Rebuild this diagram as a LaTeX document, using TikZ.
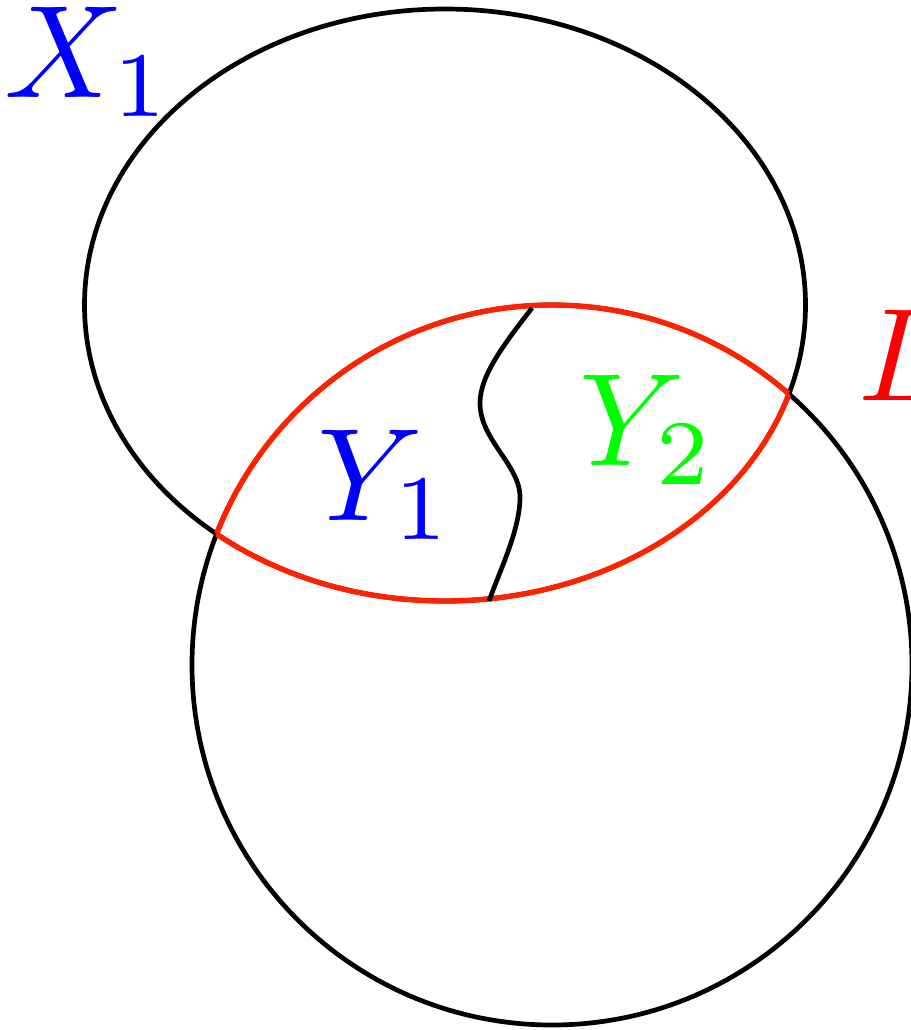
\documentclass[tikz,border=0pt]{standalone}
\usepackage{xcolor}
\definecolor{redline}{RGB}{255,34,0}
\definecolor{greenlab}{RGB}{0,255,0}
\begin{document}
\begin{tikzpicture}[x=0.5pt,y=-0.5pt,
  curve/.style={line width=2.35pt,black},
  redcurve/.style={line width=2.7pt,redline},
  lab/.style={inner sep=0pt,anchor=base west,scale=6.6}]
\useasboundingbox (0,0) rectangle (911,1030);
% outlines
\draw[curve] (445,305) ellipse [x radius=360.5,y radius=296];
\draw[curve] (552,665) circle [radius=360];
% red boundary of the intersection
\begin{scope}
  \clip (445,305) ellipse [x radius=360.5,y radius=296];
  \draw[redcurve] (552,665) circle [radius=360];
\end{scope}
\begin{scope}
  \clip (552,665) circle [radius=360];
  \draw[redcurve] (445,305) ellipse [x radius=360.5,y radius=296];
\end{scope}
% dividing curve
\draw[curve] (532,308) .. controls (505,343) and (480,375) .. (480,403)
  .. controls (480,440) and (520,465) .. (520,497)
  .. controls (520,530) and (500,570) .. (489,601);
% labels
\node[lab,text=blue] (x1) at (2,97) {$X_1$};
\node[lab,text=blue] (y1) at (315,520) {$Y_1$};
\node[lab,text=greenlab] (y2) at (577,465) {$Y_2$};
\node[lab,text=red] (l) at (856,400) {$L$};
\end{tikzpicture}
\end{document}
